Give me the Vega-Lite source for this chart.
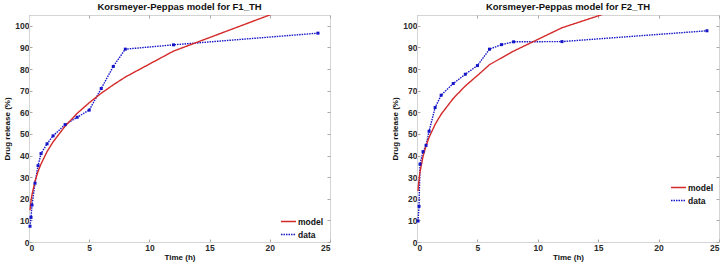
{
  "$schema": "https://vega.github.io/schema/vega-lite/v6.json",
  "autosize": {"type": "pad"},
  "padding": {"left": 3, "top": 1, "right": 6, "bottom": 2},
  "spacing": 60,
  "background": "white",
  "config": {
    "font": "Liberation Sans",
    "view": {"stroke": "#d4d4d4", "strokeWidth": 1},
    "title": {"fontSize": 9.5, "fontWeight": "bold", "color": "#111111", "offset": 3},
    "axis": {
      "grid": false,
      "domainColor": "#d4d4d4",
      "tickColor": "#a8a8a8",
      "tickSize": -3,
      "labelFont": "Liberation Sans",
      "labelFontSize": 8.5,
      "labelFontWeight": "bold",
      "labelColor": "#2b2b2b",
      "titleFont": "Liberation Sans",
      "titleFontSize": 8,
      "titleFontWeight": "bold",
      "titleColor": "#111111"
    },
    "legend": {
      "symbolType": "stroke",
      "symbolSize": 225,
      "symbolStrokeWidth": 1.6,
      "labelFontSize": 8.5,
      "labelFontWeight": "bold",
      "labelColor": "#111111",
      "labelOffset": 1,
      "rowPadding": -6,
      "padding": 0
    }
  },
  "datasets": {
    "release": [
      {"panel": "F1", "series": "data", "t": 0.083, "y": 7.3},
      {"panel": "F1", "series": "data", "t": 0.167, "y": 11.4},
      {"panel": "F1", "series": "data", "t": 0.25, "y": 17.1},
      {"panel": "F1", "series": "data", "t": 0.5, "y": 27.2},
      {"panel": "F1", "series": "data", "t": 0.75, "y": 35.3},
      {"panel": "F1", "series": "data", "t": 1, "y": 40.9},
      {"panel": "F1", "series": "data", "t": 1.5, "y": 45.4},
      {"panel": "F1", "series": "data", "t": 2, "y": 49.1},
      {"panel": "F1", "series": "data", "t": 3, "y": 54.3},
      {"panel": "F1", "series": "data", "t": 4, "y": 57.7},
      {"panel": "F1", "series": "data", "t": 5, "y": 61},
      {"panel": "F1", "series": "data", "t": 6, "y": 71},
      {"panel": "F1", "series": "data", "t": 7, "y": 81.2},
      {"panel": "F1", "series": "data", "t": 8, "y": 89.2},
      {"panel": "F1", "series": "data", "t": 12, "y": 91.2},
      {"panel": "F1", "series": "data", "t": 24, "y": 96.6},
      {"panel": "F1", "series": "model", "t": 0.083, "y": 14.7},
      {"panel": "F1", "series": "model", "t": 0.167, "y": 19.0},
      {"panel": "F1", "series": "model", "t": 0.25, "y": 21.9},
      {"panel": "F1", "series": "model", "t": 0.5, "y": 28.1},
      {"panel": "F1", "series": "model", "t": 0.75, "y": 32.6},
      {"panel": "F1", "series": "model", "t": 1, "y": 36.1},
      {"panel": "F1", "series": "model", "t": 1.5, "y": 41.8},
      {"panel": "F1", "series": "model", "t": 2, "y": 46.3},
      {"panel": "F1", "series": "model", "t": 3, "y": 53.6},
      {"panel": "F1", "series": "model", "t": 4, "y": 59.5},
      {"panel": "F1", "series": "model", "t": 5, "y": 64.4},
      {"panel": "F1", "series": "model", "t": 6, "y": 68.8},
      {"panel": "F1", "series": "model", "t": 7, "y": 72.7},
      {"panel": "F1", "series": "model", "t": 8, "y": 76.3},
      {"panel": "F1", "series": "model", "t": 12, "y": 88.3},
      {"panel": "F1", "series": "model", "t": 24, "y": 113.4},
      {"panel": "F2", "series": "data", "t": 0.083, "y": 9.7},
      {"panel": "F2", "series": "data", "t": 0.167, "y": 16.5},
      {"panel": "F2", "series": "data", "t": 0.25, "y": 36},
      {"panel": "F2", "series": "data", "t": 0.5, "y": 41.8},
      {"panel": "F2", "series": "data", "t": 0.75, "y": 44.7},
      {"panel": "F2", "series": "data", "t": 1, "y": 51.2},
      {"panel": "F2", "series": "data", "t": 1.5, "y": 62.2},
      {"panel": "F2", "series": "data", "t": 2, "y": 67.9},
      {"panel": "F2", "series": "data", "t": 3, "y": 73.3},
      {"panel": "F2", "series": "data", "t": 4, "y": 77.6},
      {"panel": "F2", "series": "data", "t": 5, "y": 81.6},
      {"panel": "F2", "series": "data", "t": 6, "y": 89.2},
      {"panel": "F2", "series": "data", "t": 7, "y": 91.3},
      {"panel": "F2", "series": "data", "t": 8, "y": 92.6},
      {"panel": "F2", "series": "data", "t": 12, "y": 92.7},
      {"panel": "F2", "series": "data", "t": 24, "y": 97.7},
      {"panel": "F2", "series": "model", "t": 0.083, "y": 23.6},
      {"panel": "F2", "series": "model", "t": 0.167, "y": 28.9},
      {"panel": "F2", "series": "model", "t": 0.25, "y": 32.4},
      {"panel": "F2", "series": "model", "t": 0.5, "y": 39.6},
      {"panel": "F2", "series": "model", "t": 0.75, "y": 44.5},
      {"panel": "F2", "series": "model", "t": 1, "y": 48.4},
      {"panel": "F2", "series": "model", "t": 1.5, "y": 54.4},
      {"panel": "F2", "series": "model", "t": 2, "y": 59.1},
      {"panel": "F2", "series": "model", "t": 3, "y": 66.4},
      {"panel": "F2", "series": "model", "t": 4, "y": 72.2},
      {"panel": "F2", "series": "model", "t": 5, "y": 77.0},
      {"panel": "F2", "series": "model", "t": 6, "y": 82.0},
      {"panel": "F2", "series": "model", "t": 7, "y": 85.2},
      {"panel": "F2", "series": "model", "t": 8, "y": 88.3},
      {"panel": "F2", "series": "model", "t": 12, "y": 99.1},
      {"panel": "F2", "series": "model", "t": 24, "y": 121.1}
    ]
  },
  "hconcat": [
    {
      "width": 301,
      "height": 227,
      "title": "Korsmeyer-Peppas model for F1_TH",
      "data": {"name": "release"},
      "transform": [{"filter": "datum.panel === 'F1'"}],
      "layer": [
        {
          "mark": {"type": "line", "clip": true, "strokeWidth": 1.4},
          "encoding": {
            "x": {"field": "t", "type": "quantitative", "scale": {"domain": [0, 25], "nice": false}, "axis": {"title": "Time (h)", "values": [0, 5, 10, 15, 20, 25], "labelPadding": 4, "titlePadding": 2}},
            "y": {"field": "y", "type": "quantitative", "scale": {"domain": [0, 105], "nice": false}, "axis": {"title": "Drug release (%)", "values": [0, 10, 20, 30, 40, 50, 60, 70, 80, 90, 100], "labelPadding": 3, "titlePadding": 3}},
            "color": {"field": "series", "type": "nominal", "scale": {"domain": ["model", "data"], "range": ["#d42a2a", "#1515c8"]}, "legend": {"title": null, "orient": "none", "legendX": 251, "legendY": 198}},
            "strokeDash": {"field": "series", "type": "nominal", "scale": {"domain": ["model", "data"], "range": [[1, 0], [1.5, 1]]}, "legend": {"title": null, "orient": "none", "legendX": 251, "legendY": 198}},
            "order": {"field": "t", "type": "quantitative"}
          }
        },
        {
          "transform": [{"filter": "datum.series === 'data'"}],
          "mark": {"type": "point", "filled": true, "shape": "square", "size": 9, "color": "#1515c8", "opacity": 1},
          "encoding": {
            "x": {"field": "t", "type": "quantitative", "axis": {"orient": "top", "labels": false, "title": null, "domain": false, "values": [0, 5, 10, 15, 20, 25]}},
            "y": {"field": "y", "type": "quantitative", "axis": {"orient": "right", "labels": false, "title": null, "domain": false, "values": [0, 10, 20, 30, 40, 50, 60, 70, 80, 90, 100]}}
          }
        }
      ],
      "resolve": {"axis": {"x": "independent", "y": "independent"}}
    },
    {
      "width": 302,
      "height": 227,
      "title": "Korsmeyer-Peppas model for F2_TH",
      "data": {"name": "release"},
      "transform": [{"filter": "datum.panel === 'F2'"}],
      "layer": [
        {
          "mark": {"type": "line", "clip": true, "strokeWidth": 1.4},
          "encoding": {
            "x": {"field": "t", "type": "quantitative", "scale": {"domain": [0, 25], "nice": false}, "axis": {"title": "Time (h)", "values": [0, 5, 10, 15, 20, 25], "labelPadding": 4, "titlePadding": 2}},
            "y": {"field": "y", "type": "quantitative", "scale": {"domain": [0, 105], "nice": false}, "axis": {"title": "Drug release (%)", "values": [0, 10, 20, 30, 40, 50, 60, 70, 80, 90, 100], "labelPadding": 3, "titlePadding": 3}},
            "color": {"field": "series", "type": "nominal", "scale": {"domain": ["model", "data"], "range": ["#d42a2a", "#1515c8"]}, "legend": {"title": null, "orient": "none", "legendX": 253, "legendY": 164}},
            "strokeDash": {"field": "series", "type": "nominal", "scale": {"domain": ["model", "data"], "range": [[1, 0], [1.5, 1]]}, "legend": {"title": null, "orient": "none", "legendX": 253, "legendY": 164}},
            "order": {"field": "t", "type": "quantitative"}
          }
        },
        {
          "transform": [{"filter": "datum.series === 'data'"}],
          "mark": {"type": "point", "filled": true, "shape": "square", "size": 9, "color": "#1515c8", "opacity": 1},
          "encoding": {
            "x": {"field": "t", "type": "quantitative", "axis": {"orient": "top", "labels": false, "title": null, "domain": false, "values": [0, 5, 10, 15, 20, 25]}},
            "y": {"field": "y", "type": "quantitative", "axis": {"orient": "right", "labels": false, "title": null, "domain": false, "values": [0, 10, 20, 30, 40, 50, 60, 70, 80, 90, 100]}}
          }
        }
      ],
      "resolve": {"axis": {"x": "independent", "y": "independent"}}
    }
  ],
  "resolve": {"scale": {"color": "independent", "strokeDash": "independent"}, "legend": {"color": "independent", "strokeDash": "independent"}}
}
